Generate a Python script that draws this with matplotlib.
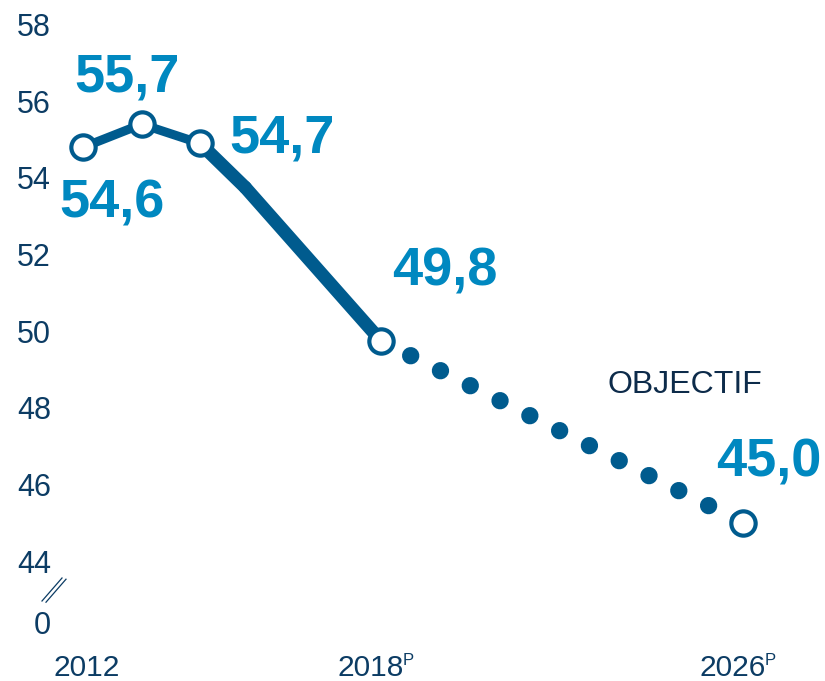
import numpy as np
import matplotlib
matplotlib.use("Agg")
import matplotlib.pyplot as plt
from matplotlib.collections import LineCollection
from matplotlib.lines import Line2D

# ---- data ----
years_actual = [2012, 2013, 2014, 2015, 2018]
values_actual = [54.8, 55.4, 54.9, 53.75, 49.75]
years_target = [2018, 2026]
values_target = [49.75, 45.0]
marker_years = [2012, 2013, 2014, 2018, 2026]
marker_values = [54.8, 55.4, 54.9, 49.75, 45.0]
value_labels = ["54,6", "55,7", "54,7", "49,8", "45,0"]
y_ticks = [44, 46, 48, 50, 52, 54, 56, 58]
y_tick_labels = ["44", "46", "48", "50", "52", "54", "56", "58"]
zero_label = "0"
x_ticks = [2012, 2018, 2026]
x_tick_labels = ["2012", "2018", "2026"]
x_tick_sups = ["", "P", "P"]
target_text = "OBJECTIF"

# ---- style ----
plt.rcParams["font.family"] = ["Liberation Sans", "DejaVu Sans"]
LINE = "#005b8e"
LABEL = "#0088c0"
TICK = "#0c3c64"
DARK = "#0d2b4a"

fig = plt.figure(figsize=(8.25, 6.81), dpi=100)
W, H = 825, 681
ax = fig.add_axes([60 / W, 1 - 645 / H, (815 - 60) / W, (645 - 5) / H])

# early years are spread a little wider on the axis
K = 1.29
def fwd(x):
    x = np.asarray(x, dtype=float)
    return np.where(x < 2014, 2014 - (2014 - x) * K, x)
def inv(s):
    s = np.asarray(s, dtype=float)
    return np.where(s < 2014, 2014 - (2014 - s) / K, s)
ax.set_xscale("function", functions=(fwd, inv))
ax.set_xlim(2011.6, 2027.6)
ax.set_ylim(41.81, 58.51)

for sp in ax.spines.values():
    sp.set_visible(False)

# solid line with varying width
pts = np.column_stack([years_actual, values_actual])
segs = np.stack([pts[:-1], pts[1:]], axis=1)
lc = LineCollection(segs, colors=LINE, linewidths=[6.5, 6.5, 9.5, 9.5],
                    capstyle="round", joinstyle="round", zorder=2)
ax.add_collection(lc)

# dotted target line
lw_dot = 12.5
ax.plot(years_target, values_target, color=LINE, lw=lw_dot,
        linestyle=(0, (0.001, 1.92)), dash_capstyle="round", zorder=2)

# markers
ax.plot(marker_years, marker_values, linestyle="none", marker="o", ms=17.5,
        mfc="white", mec=LINE, mew=3, zorder=3)

# value labels
offsets = [(28.5, -70), (-15, 33), (82, -9), (64, 55), (26.5, 46)]
for xv, yv, lab, (dx, dy) in zip(marker_years, marker_values, value_labels, offsets):
    ax.annotate(lab, xy=(xv, yv), xytext=(dx, dy), textcoords="offset pixels",
                ha="center", va="baseline", fontsize=39, fontweight="bold",
                color=LABEL, zorder=4)

ax.annotate(target_text, xy=(years_target[-1], values_target[-1]), xytext=(-57.5, 130),
            textcoords="offset pixels", ha="center", va="baseline",
            fontsize=23, color=DARK)

# y ticks
zero_pos = 42.39
ax.set_yticks(y_ticks + [zero_pos], labels=y_tick_labels + [zero_label])
ax.tick_params(axis="y", length=0, pad=6.5, labelsize=22, labelcolor=TICK)
ax.set_xticks([])
ax.minorticks_off()

# x labels
for xv, lab, sup in zip(x_ticks, x_tick_labels, x_tick_sups):
    dx = -10 if sup else 3
    ax.annotate(lab, xy=(xv, 0), xycoords=ax.get_xaxis_transform(),
                xytext=(dx, -31), textcoords="offset pixels",
                ha="center", va="baseline", fontsize=21.5, color=TICK,
                annotation_clip=False)
    if sup:
        ax.annotate(sup, xy=(xv, 0), xycoords=ax.get_xaxis_transform(),
                    xytext=(dx + 32, -20), textcoords="offset pixels",
                    ha="left", va="baseline", fontsize=12, color=TICK,
                    annotation_clip=False)

# axis break mark
for off in (0, 4):
    fig.add_artist(Line2D([(42 + off) / W, (62 + off) / W],
                          [1 - (601 + off * 0.3) / H, 1 - (578 + off * 0.3) / H],
                          transform=fig.transFigure, color=TICK, lw=0.9))

fig.savefig("out.png", dpi=100)
